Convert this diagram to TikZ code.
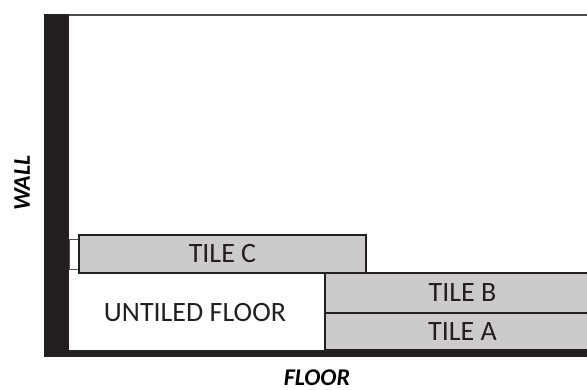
\documentclass[tikz,border=0pt]{standalone}
\usepackage{fontspec}
\setmainfont{Carlito}
\usetikzlibrary{calc}
\definecolor{tilegray}{RGB}{205,202,202}
\definecolor{wallblack}{RGB}{35,31,32}
\newcommand{\tile}[6]{ \draw[tileline, fill=tilegray] ( #1 , #2 ) rectangle ( #3 , #4 ); \node[tiletext] (#5) at ($( #1 , #2 )!0.5!( #3 , #4 )$) {#6};}
\newcommand{\lablnode}[4]{\node[labltext, #4] (#1) at ( #2 , #3 ) {\bfseries\itshape #1};}

\begin{document}
\begin{tikzpicture}[x=1pt, y=-1pt,
    tileline/.style={line width=1.5pt, draw=wallblack},
    tiletext/.style={font=\fontsize{28}{30}\selectfont, text=wallblack},
    labltext/.style={font=\fontsize{24}{26}\selectfont, text=black, inner sep=0pt, text depth=0pt}]
        \useasboundingbox (0,0) rectangle (587,390);
        \clip (0,0) rectangle (587,390);
        % wall and floor
        \draw[line width=1.5pt, draw=wallblack!80] (69,15) -- (600,15);
        \fill[wallblack] (44,14.5) rectangle (69,357);
        \fill[wallblack] (44,350) rectangle (600,357);
        % spacer behind tile C
        \draw[line width=1pt, draw=wallblack!80, fill=white] (69,240) rectangle (79,270);
        \tile{79}{235}{366}{273}{tileC}{TILE C}
        \tile{325}{273}{600}{313}{tileB}{TILE B}
        \tile{325}{313}{600}{350}{tileA}{TILE A}
        \node[tiletext] (untiled) at (195,313) {UNTILED FLOOR};
        \lablnode{WALL}{30}{183}{rotate=90, anchor=base}
        \lablnode{FLOOR}{317}{385}{anchor=base}
    \end{tikzpicture}
\end{document}
